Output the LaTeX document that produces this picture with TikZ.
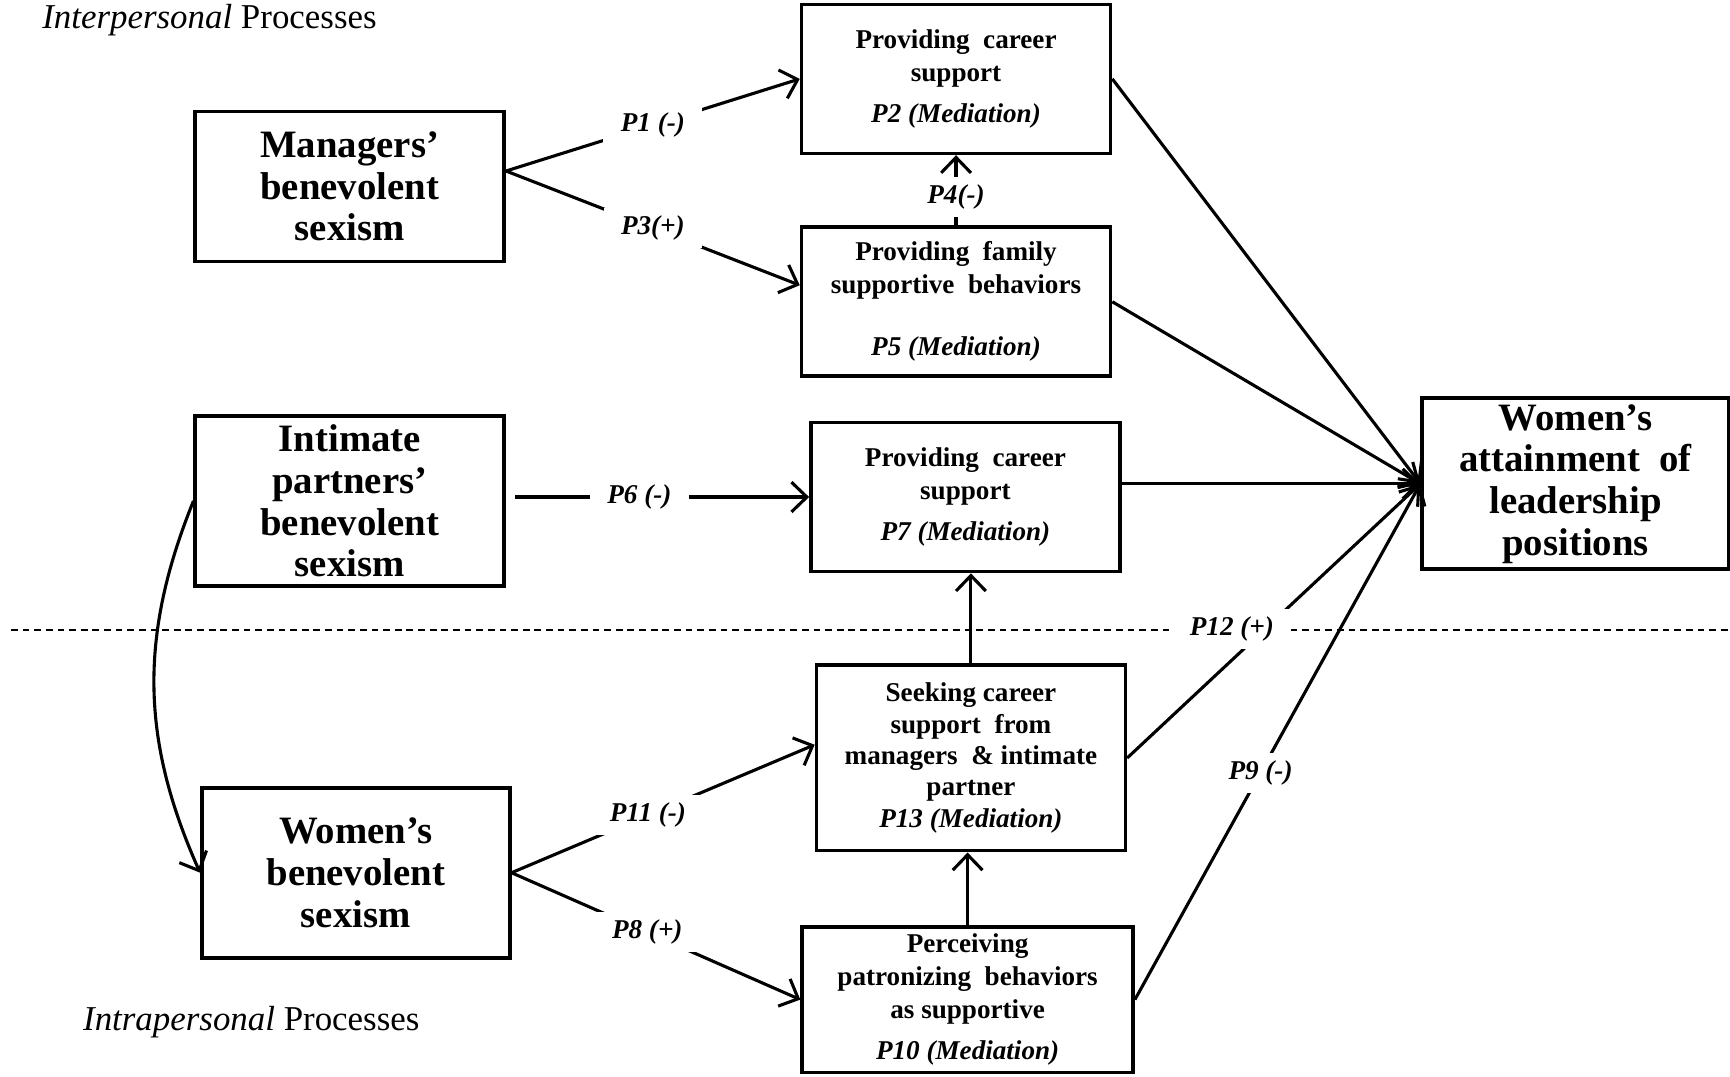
\documentclass[tikz,border=0pt]{standalone}
\usepackage{fontspec}
\setmainfont{Liberation Serif}
\usetikzlibrary{arrows.meta}

\begin{document}
\begin{tikzpicture}[x=0.02cm, y=-0.02cm,
  box/.style={draw, line width=1.9pt, align=center, inner sep=2pt},
  bigbox/.style={box, minimum width=5.6cm, font=\fontsize{20}{21.5}\selectfont\bfseries},
  smbox/.style={box, minimum width=5.6cm, minimum height=2.7cm, font=\fontsize{14}{17}\selectfont\bfseries},
  plbl/.style={font=\fontsize{14}{16}\selectfont\bfseries\itshape, fill=white, inner xsep=9pt, inner ysep=4pt},
  procs/.style={anchor=west, inner sep=0pt, font=\fontsize{18}{20}\selectfont},
  arr/.style={-{Straight Barb[length=2.8mm, width=5.4mm, line width=1.6pt]}, line width=1.6pt},
]
\useasboundingbox (0,0) rectangle (1568,976);
\draw[line width=0.55pt, dash pattern=on 3.5pt off 2.5pt] (10,571) -- (1568,571);
\node[procs] (inter) at (38,18) {\textit{Interpersonal} Processes};
\node[procs] (intra) at (75,926) {\textit{Intrapersonal} Processes};
% === Interpersonal ===
\node[bigbox, minimum height=2.72cm] (mgr) at (317,169) {Managers'\\benevolent\\sexism};
\node[smbox] (csA) at (866.5,71.5) {Providing\ \ career\\support\\[4pt]\textit{P2 (Mediation)}};
\node[smbox] (fam) at (866.5,273.5) {Providing\ \ family\\supportive\ \ behaviors\\[15pt]\textit{P5 (Mediation)}};
\node[bigbox, minimum height=3.08cm] (ipt) at (317,454) {Intimate\\partners'\\benevolent\\sexism};
\node[smbox] (csB) at (875,450.5) {Providing\ \ career\\support\\[4pt]\textit{P7 (Mediation)}};
\node[bigbox, minimum width=5.56cm, minimum height=3.1cm] (att) at (1428,438.5) {Women's\\attainment\ \ of\\leadership\\positions};
% === Intrapersonal ===
\node[smbox, minimum height=3.36cm, font=\fontsize{14}{16.2}\selectfont\bfseries] (seek) at (880,687) {Seeking career\\support\ \ from\\managers\ \ \&\ intimate\\partner\\\textit{P13 (Mediation)}};
\node[bigbox, minimum width=5.58cm, minimum height=3.08cm] (wbs) at (322.5,791) {Women's\\benevolent\\sexism};
\node[smbox, minimum width=6cm, minimum height=2.64cm] (perc) at (877,906) {Perceiving\\patronizing\ \ behaviors\\as supportive\\[4.5pt]\textit{P10 (Mediation)}};
% paths
\coordinate (mgrout) at ([yshift=0.28cm]mgr.east);
\draw[arr] (mgrout) -- node[plbl] {P1 (-)} (csA.west);
\draw[arr] (mgrout) -- node[plbl] {P3(+)} ([yshift=0.3cm]fam.west);
\draw[arr] (fam.north) -- node[plbl, pos=0.4] {P4(-)} (csA.south);
\draw[arr, shorten <=0.16cm] (ipt.east |- csB.west) -- node[plbl, pos=0.44] {P6 (-)} (csB.west);
\draw[arr] (csA.east) -- (att.west);
\draw[arr] (fam.east) -- (att.west);
\draw[arr] (csB.east |- att.west) -- (att.west);
\draw[arr] (seek.east) -- node[plbl, pos=0.47, xshift=-0.6cm] {P12 (+)} (att.west);
\draw[arr] (perc.east) -- node[plbl, pos=0.44] {P9 (-)} (att.west);
\draw[arr] (wbs.east) -- node[plbl, pos=0.45] {P11 (-)} ([yshift=0.24cm]seek.west);
\draw[arr] (wbs.east) -- node[plbl, pos=0.47] {P8 (+)} (perc.west);
\draw[arr] (perc.north) -- (perc.north |- seek.south);
\draw[arr] (seek.north) -- (seek.north |- csB.south);
\draw[arr] (ipt.west) to[out=-112, in=114] (wbs.west);
\end{tikzpicture}
\end{document}
